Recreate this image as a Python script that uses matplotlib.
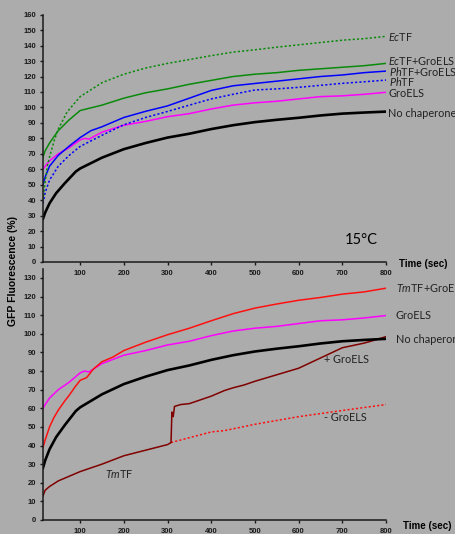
import matplotlib
matplotlib.use("Agg")
import matplotlib.pyplot as plt

# ============================= Data ============================= #
# shared series (same measurement in both panels)
t_noch = [15, 20, 30, 45, 65, 90, 100, 150, 200, 250, 300, 350, 400, 450, 500, 550, 600, 650, 700, 750, 800]
noch   = [28, 32, 38, 44.5, 51, 58.5, 60.5, 67.5, 73, 77, 80.5, 83, 86, 88.5, 90.5, 92, 93.3, 94.8, 96, 96.7, 97.3]

t_gro = [15, 20, 30, 50, 75, 100, 110, 120, 150, 200, 250, 300, 350, 400, 450, 500, 550, 600, 650, 700, 750, 800]
gro   = [60, 62, 65.5, 70, 74, 79, 80, 79.5, 84, 88.5, 91, 94, 96, 99, 101.5, 103, 104, 105.5, 107, 107.5, 108.5, 109.8]

# top panel (15 C)
t_ectf = [15, 20, 25, 30, 40, 50, 70, 100, 150, 200, 250, 300, 350, 400, 450, 500, 550, 600, 650, 700, 750, 800]
ectf   = [40, 52, 62, 68, 78, 86, 97, 107, 116, 121.5, 125.5, 128.5, 131, 133.5, 135.8, 137.3, 139, 140.5, 142, 143.5, 144.5, 146]

t_ectf_gro = [15, 20, 30, 50, 75, 100, 150, 200, 250, 300, 350, 400, 450, 500, 550, 600, 650, 700, 750, 800]
ectf_gro   = [68, 72, 77, 85, 92, 98, 101.5, 106, 109.5, 112, 115, 117.5, 120, 121.5, 122.5, 124, 125, 126, 127, 128.5]

t_phtf_gro = [15, 20, 30, 50, 75, 100, 125, 150, 200, 250, 300, 350, 400, 450, 500, 550, 600, 650, 700, 750, 800]
phtf_gro   = [50, 55, 62, 69, 75, 80.5, 85, 87.5, 93.5, 97.5, 101, 106, 111, 114, 115.5, 117, 118.5, 120, 121, 122.5, 123.5]

t_phtf = [15, 20, 30, 50, 75, 100, 150, 200, 250, 300, 350, 400, 450, 500, 550, 600, 650, 700, 750, 800]
phtf   = [38, 45, 53, 62, 69, 74.8, 82, 88.8, 93.5, 97.4, 101.5, 105.5, 108.5, 111.3, 112, 113, 114.3, 115.6, 116.6, 117.7]

# bottom panel (TmTF)
t_tmtf_gro = [15, 20, 30, 40, 50, 65, 75, 90, 100, 115, 130, 150, 175, 200, 250, 300, 350, 400, 450, 500, 550, 600, 650, 700, 750, 800]
tmtf_gro   = [39, 43, 50, 55, 59, 64, 67, 72, 75, 76.5, 81, 85, 87.5, 91, 95.5, 99.5, 103, 107, 110.8, 113.8, 116, 118, 119.5, 121.3, 122.5, 124.5]

t_tmtf = [15, 20, 30, 50, 75, 100, 150, 200, 250, 300, 308, 310, 313, 316, 330, 350, 375, 400, 430, 450, 475, 500, 550, 600, 650, 700, 750, 780, 800]
tmtf   = [13, 16, 18, 21, 23.5, 26, 30, 34.5, 37.5, 40.5, 41.6, 58, 55.5, 61, 62, 62.5, 64.5, 66.5, 69.5, 71, 72.5, 74.5, 78, 81.5, 87, 92.5, 95, 97, 98.5]

t_tmtf_nogro = [308, 400, 430, 500, 600, 700, 800]
tmtf_nogro   = [41.6, 47.3, 48, 51.4, 55.5, 58.8, 62]

# ============================= Style ============================= #
bg = "#acacac"
txt_col = "#222222"
plt.rcParams["mathtext.fontset"] = "custom"
plt.rcParams["mathtext.rm"] = "Lato"
plt.rcParams["mathtext.it"] = "Lato:italic"

W, H = 455, 534
fig = plt.figure(figsize=(W / 100, H / 100), dpi=100, facecolor=bg)

def px(x0, y0, x1, y1):
    return [x0 / W, 1 - y1 / H, (x1 - x0) / W, (y1 - y0) / H]

def style_ax(ax, ymax, yticks):
    ax.patch.set_alpha(0)
    for s in ["top", "right"]:
        ax.spines[s].set_visible(False)
    for s in ["left", "bottom"]:
        ax.spines[s].set_color("#1a1a1a")
        ax.spines[s].set_linewidth(1.1)
    ax.set_xlim(15, 800)
    ax.set_ylim(0, ymax)
    ax.set_xticks(range(100, 801, 100))
    ax.set_yticks(yticks)
    ax.tick_params(direction="out", length=2.5, width=1, pad=2.5, colors="#1a1a1a", labelsize=5.5)
    ax.tick_params(axis="x", pad=3.5)
    for lab in ax.get_xticklabels() + ax.get_yticklabels():
        lab.set_fontweight("bold")
        lab.set_family("Liberation Sans")

dot = (0, (1.4, 1.4))
lab_kw = dict(family="Lato", fontsize=7.8, color=txt_col, va="center", ha="left")

# ============================= Top panel ============================= #
ax1 = fig.add_axes(px(43, 14.7, 386, 262))
style_ax(ax1, 160, range(0, 161, 10))
ax1.set_zorder(3)
ax1.plot(t_noch, noch, color="black", lw=1.9)
ax1.plot(t_gro, gro, color="#ff00ff", lw=1.1)
ax1.plot(t_phtf, phtf, color="#0000ff", lw=1.1, ls=dot)
ax1.plot(t_phtf_gro, phtf_gro, color="#0000ff", lw=1.1)
ax1.plot(t_ectf_gro, ectf_gro, color="#0a8a0a", lw=1.1)
ax1.plot(t_ectf, ectf, color="#0a8a0a", lw=1.1, ls=dot)

ax1.text(805, 145.3, r"$\mathit{Ec}$TF", **lab_kw)
ax1.text(805, 130, r"$\mathit{Ec}$TF+GroELS", **lab_kw)
ax1.text(808, 123.5, r"$\mathit{Ph}$TF+GroELS", **lab_kw)
ax1.text(808, 116.6, r"$\mathit{Ph}$TF", **lab_kw)
ax1.text(805, 108.7, "GroELS", **lab_kw)
ax1.text(805, 96.2, "No chaperone", **lab_kw)
ax1.text(0.88, 0.09, "15°C", transform=ax1.transAxes, family="Lato",
         fontsize=10.5, color="black", ha="left", va="center")

# ============================= Bottom panel ============================= #
ax2 = fig.add_axes(px(43, 269, 386, 520))
style_ax(ax2, 134.8, range(0, 131, 10))
ax2.plot(t_tmtf_nogro, tmtf_nogro, color="#ff1010", lw=1.1, ls=dot)
ax2.plot(t_tmtf, tmtf, color="#800000", lw=1.1)
ax2.plot(t_noch, noch, color="black", lw=1.9)
ax2.plot(t_gro, gro, color="#ff00ff", lw=1.1)
ax2.plot(t_tmtf_gro, tmtf_gro, color="#ff1010", lw=1.1)

ax2.text(822, 124.5, r"$\mathit{Tm}$TF+GroELS", **lab_kw)
ax2.text(822, 109.6, "GroELS", **lab_kw)
ax2.text(822, 96.7, "No chaperone", **lab_kw)
ax2.text(657, 86.3, "+ GroELS", **lab_kw)
ax2.text(657, 55, "- GroELS", **lab_kw)
ax2.text(157, 24.7, r"$\mathit{Tm}$TF", **lab_kw)

# ============================= Axis titles ============================= #
fig.text(399 / W, 1 - 264 / H, "Time (sec)", family="Liberation Sans", fontweight="bold",
         fontsize=7, color="black", ha="left", va="center", zorder=5)
fig.text(403 / W, 1 - 525.7 / H, "Time (sec)", family="Liberation Sans", fontweight="bold",
         fontsize=7, color="black", ha="left", va="center")
fig.text(13 / W, 1 - 271.5 / H, "GFP Fluorescence (%)", family="Liberation Sans", fontweight="bold",
         fontsize=7.5, color="black", rotation=90, ha="center", va="center")

fig.savefig("out.png", dpi=100, facecolor=bg)
